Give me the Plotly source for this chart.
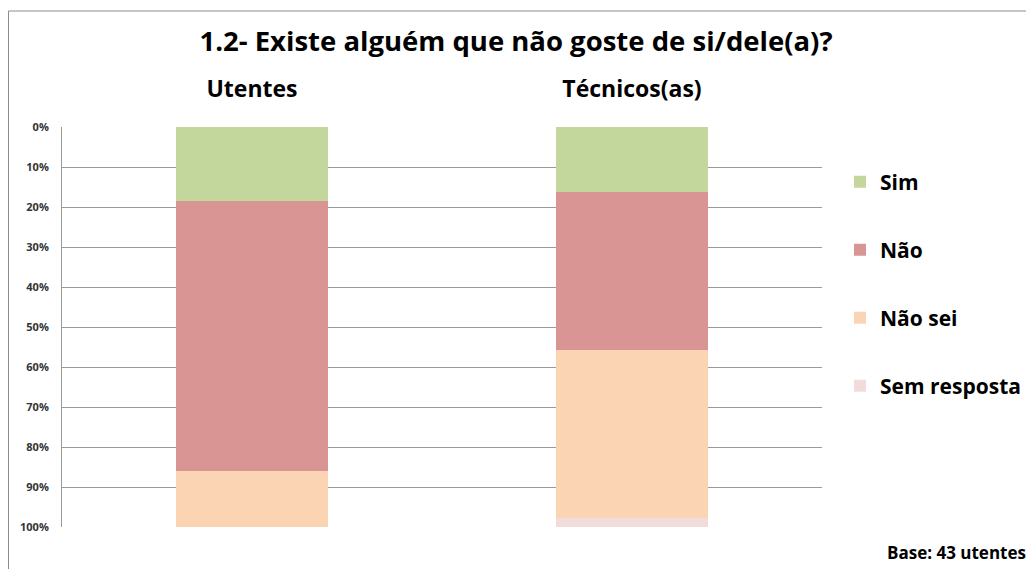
import plotly.graph_objects as go

categories = ["Utentes", "Técnicos(as)"]
series_names = ["Sim", "Não", "Não sei", "Sem resposta"]
sim = [18.6, 16.3]
nao = [67.4, 39.5]
nao_sei = [14.0, 41.9]
sem_resposta = [0.0, 2.3]
colors = ["#C3D69B", "#D99594", "#FBD4B4", "#F2DCDB"]
tick_vals = [0, 10, 20, 30, 40, 50, 60, 70, 80, 90, 100]
tick_text = [f"{v}%" for v in tick_vals]

FONT = "Open Sans"
fig = go.Figure()
for i, (name, vals) in enumerate(zip(series_names, [sim, nao, nao_sei, sem_resposta])):
    fig.add_trace(go.Bar(
        x=categories, y=vals, name=f"<b>{name}</b>", marker_color=colors[i],
        marker_line_width=0, width=0.4, legendgroup=str(i),
    ))

OFF = 8  # page body margin
W, H = 1034 - OFF, 569 - OFF
L, R, T, B = 62 - OFF, 1034 - 822, 127 - OFF, 569 - 527
pw, ph = W - L - R, H - T - B


def py(page_y):
    return (527 - page_y) / ph


def px(page_x):
    return (page_x - 62) / pw


fig.update_layout(
    width=W, height=H,
    barmode="stack",
    plot_bgcolor="white", paper_bgcolor="white",
    margin=dict(l=L, r=R, t=T, b=B, autoexpand=False),
    font=dict(family=FONT, color="#000"),
    title=dict(text="<b>1.2- Existe alguém que não goste de si/dele(a)?</b>",
               x=(516 - OFF) / W, xanchor="center", y=1 - (41 - OFF) / H, yanchor="middle",
               font=dict(size=27.5, family=FONT, color="#000")),
    showlegend=True,
    legend=dict(x=px(840), xanchor="left", y=py(161.5), yanchor="top",
                traceorder="grouped", tracegroupgap=37.7,
                font=dict(size=21, family=FONT, color="#000"),
                itemclick=False, itemwidth=30),
    xaxis=dict(side="top", showgrid=False, showline=False, ticks="",
               tickfont=dict(size=23, family=FONT, color="#000"),
               ticklabelstandoff=24,
               tickvals=categories, ticktext=[f"<b>{c}</b>" for c in categories]),
    yaxis=dict(range=[100, 0], tickvals=tick_vals, ticktext=[f"<b>{t}</b>" for t in tick_text],
               showgrid=True, gridcolor="#9a9a9a", gridwidth=1,
               showline=True, linecolor="#9a9a9a", linewidth=1,
               ticks="", tickfont=dict(size=11, family=FONT, color="#333"),
               ticklabelstandoff=10, zeroline=False),
)
fig.add_shape(type="rect", xref="paper", yref="paper",
              x0=px(8.5), x1=px(1045),
              y0=py(600), y1=py(11),
              line=dict(color="#8c8c8c", width=1), fillcolor="rgba(0,0,0,0)", layer="below")
fig.add_annotation(text="<b>Base: 43 utentes</b>", xref="paper", yref="paper",
                   x=px(1028), xanchor="right", y=py(552), yanchor="middle",
                   showarrow=False, font=dict(size=17, family=FONT, color="#000"))
fig.write_html("out.html")
